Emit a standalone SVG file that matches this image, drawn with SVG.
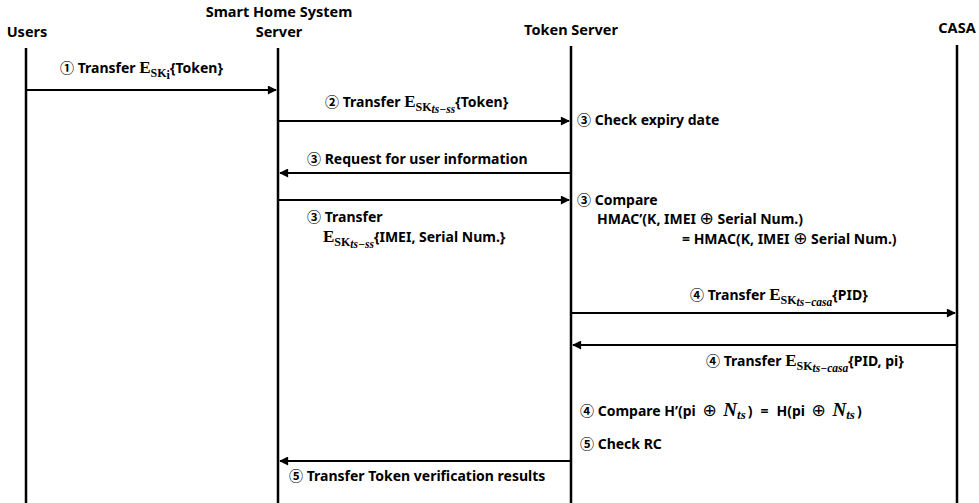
<svg xmlns="http://www.w3.org/2000/svg" width="979" height="503" viewBox="0 0 979 503">
<defs>
<style>
.t{font-family:"Noto Sans","Noto Sans CJK KR",sans-serif;font-weight:bold;font-size:14px;fill:#000}
.h{font-family:"Noto Sans","Noto Sans CJK KR",sans-serif;font-weight:bold;font-size:14.5px;fill:#000}
.m{font-family:"Liberation Serif",serif;font-weight:bold;font-size:17px}
.ms{font-family:"Liberation Serif",serif;font-weight:bold;font-size:12px}
.mi{font-family:"Liberation Serif",serif;font-style:italic;font-weight:bold;font-size:11.5px}
.ni{font-family:"Liberation Serif",serif;font-style:italic;font-weight:bold;font-size:19px}
.ni2{font-family:"Liberation Serif",serif;font-style:italic;font-weight:bold;font-size:13px}
.op{font-family:"DejaVu Sans",sans-serif;font-weight:normal;font-size:17px}
.life{stroke:#000;stroke-width:2.5;fill:none}
.msg{stroke:#000;stroke-width:2;fill:none;marker-end:url(#ah)}
</style>
<marker id="ah" viewBox="0 0 10 10" refX="9" refY="5" markerWidth="5.5" markerHeight="4.5" orient="auto" markerUnits="strokeWidth">
<path d="M0,0 L10,5 L0,10 z" fill="#000"/>
</marker>
</defs>
<rect width="979" height="503" fill="#fff"/>
<g id="users">
<text class="h" x="27" y="37" text-anchor="middle">Users</text>
<line class="life" x1="26" y1="48" x2="26" y2="503"/>
</g>
<g id="shs">
<text class="h" x="279" y="17" text-anchor="middle">Smart Home System</text>
<text class="h" x="279" y="37" text-anchor="middle">Server</text>
<line class="life" x1="278" y1="48" x2="278" y2="503"/>
</g>
<g id="token">
<text class="h" x="571" y="35" text-anchor="middle">Token Server</text>
<line class="life" x1="571" y1="46" x2="571" y2="503"/>
</g>
<g id="casa">
<text class="h" x="957" y="33" text-anchor="middle">CASA</text>
<line class="life" x1="957" y1="45" x2="957" y2="503"/>
</g>
<g id="connectors">
<line class="msg" x1="26" y1="90" x2="276" y2="90"/>
<line class="msg" x1="278" y1="121" x2="569" y2="121"/>
<line class="msg" x1="571" y1="173" x2="280" y2="173"/>
<line class="msg" x1="278" y1="200" x2="569" y2="200"/>
<line class="msg" x1="571" y1="313" x2="955" y2="313"/>
<line class="msg" x1="957" y1="345" x2="573" y2="345"/>
<line class="msg" x1="571" y1="461" x2="280" y2="461"/>
</g>
<g id="labels">
<text class="t" x="60" y="73">① Transfer <tspan class="m">E</tspan><tspan class="ms" dy="4">SK</tspan><tspan class="ms" font-size="9" dy="2">i</tspan><tspan dy="-6">{Token}</tspan></text>
<text class="t" x="325" y="107">② Transfer <tspan class="m">E</tspan><tspan class="ms" dy="4">SK</tspan><tspan class="mi" dy="2">ts−ss</tspan><tspan dy="-6">{Token}</tspan></text>
<text class="t" x="577" y="125">③ Check expiry date</text>
<text class="t" x="307" y="164">③ Request for user information</text>
<text class="t" x="577" y="205">③ Compare</text>
<text class="t" x="597" y="224">HMAC’(K, IMEI <tspan class="op">⊕</tspan> Serial Num.)</text>
<text class="t" x="682" y="244">= HMAC(K, IMEI <tspan class="op">⊕</tspan> Serial Num.)</text>
<text class="t" x="307" y="222">③ Transfer</text>
<text class="t" x="323" y="242"><tspan class="m">E</tspan><tspan class="ms" dy="4">SK</tspan><tspan class="mi" dy="2">ts−ss</tspan><tspan dy="-6">{IMEI, Serial Num.}</tspan></text>
<text class="t" x="690" y="300">④ Transfer <tspan class="m">E</tspan><tspan class="ms" dy="4">SK</tspan><tspan class="mi" dy="2">ts−casa</tspan><tspan dy="-6">{PID}</tspan></text>
<text class="t" x="706" y="366">④ Transfer <tspan class="m">E</tspan><tspan class="ms" dy="4">SK</tspan><tspan class="mi" dy="2">ts−casa</tspan><tspan dy="-6">{PID, pi}</tspan></text>
<text class="t" x="580" y="416">④ Compare H’(pi <tspan class="op" dx="3">⊕</tspan> <tspan class="ni" dx="3">N</tspan><tspan class="ni2" dy="3">ts</tspan><tspan dy="-3" dx="2">)</tspan><tspan dx="8">=</tspan><tspan dx="8">H(pi </tspan><tspan class="op" dx="3">⊕</tspan> <tspan class="ni" dx="3">N</tspan><tspan class="ni2" dy="3">ts</tspan><tspan dy="-3" dx="2">)</tspan></text>
<text class="t" x="580" y="449">⑤ Check RC</text>
<text class="t" x="289" y="481">⑤ Transfer Token verification results</text>
</g>
</svg>
